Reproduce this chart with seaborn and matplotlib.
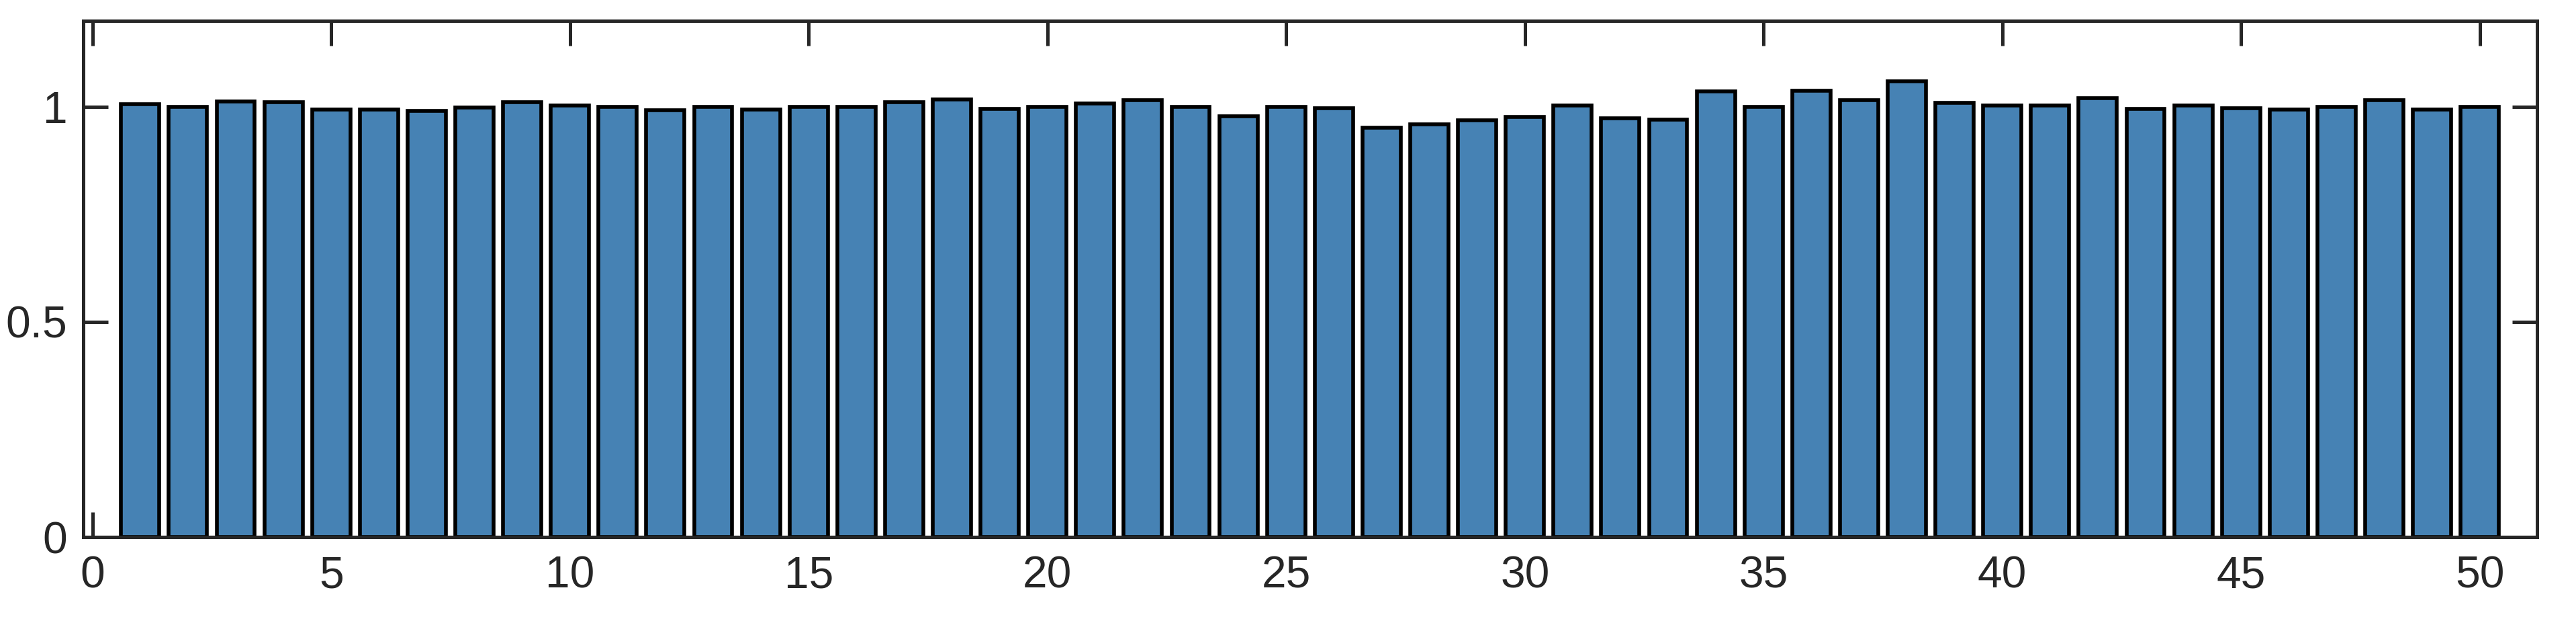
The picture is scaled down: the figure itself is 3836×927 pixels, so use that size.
import numpy as np
import pandas as pd
import matplotlib
matplotlib.use("Agg")
import matplotlib.pyplot as plt
import seaborn as sns

# bar index and values
index = list(range(1, 51))
values = [
    1.006, 1.000, 1.012, 1.011, 0.994, 0.993, 0.990, 0.998, 1.011, 1.003,
    1.000, 0.991, 1.000, 0.994, 1.000, 0.999, 1.011, 1.016, 0.995, 1.000,
    1.008, 1.015, 1.000, 0.978, 1.000, 0.997, 0.951, 0.959, 0.969, 0.976,
    1.002, 0.973, 0.970, 1.035, 0.999, 1.037, 1.015, 1.059, 1.009, 1.002,
    1.003, 1.020, 0.995, 1.003, 0.997, 0.994, 1.000, 1.015, 0.994, 1.000,
]
x_ticks = [0, 5, 10, 15, 20, 25, 30, 35, 40, 45, 50]
y_ticks = [0, 0.5, 1]
y_tick_labels = ["0", "0.5", "1"]

df = pd.DataFrame({"idx": index, "val": values})

sns.set_style("ticks")
plt.rcParams["font.family"] = ["Liberation Sans", "DejaVu Sans"]

dark = "#262626"
fig = plt.figure(figsize=(3837 / 300, 927 / 300), dpi=300)
ax = fig.add_axes([0.03219, 0.13776, 0.95243, 0.8293])

sns.barplot(
    data=df, x="idx", y="val", native_scale=True, width=0.8,
    color="steelblue", saturation=1, edgecolor="black", linewidth=1.35, ax=ax,
)

ax.set_xlim(-0.2, 51.2)
ax.set_ylim(0, 1.2)
ax.set_xticks(x_ticks)
ax.set_xticklabels([str(t) for t in x_ticks])
ax.set_yticks(y_ticks)
ax.set_yticklabels(y_tick_labels)
ax.set_xlabel("")
ax.set_ylabel("")

for s in ax.spines.values():
    s.set_visible(True)
    s.set_linewidth(1.2)
    s.set_color(dark)

ax.tick_params(axis="both", direction="in", length=8.8, width=1.2,
               color=dark, labelcolor=dark, labelsize=15.8,
               top=True, right=True)
ax.tick_params(axis="x", pad=6.5)
ax.tick_params(axis="y", pad=5.5)

fig.savefig("out.png", dpi=300)
